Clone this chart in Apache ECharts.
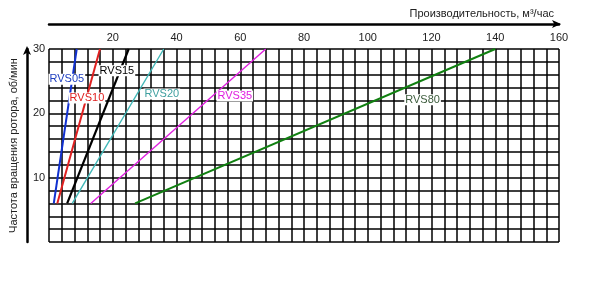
<!DOCTYPE html>
<html><head><meta charset="utf-8">
<script src="https://cdn.jsdelivr.net/npm/echarts@6/dist/echarts.min.js"></script>
<style>html,body{margin:0;padding:0;background:#fff}#c{width:592px;height:289px}</style>
</head><body><div id="c"></div>
<script>
const seriesNames = ['RVS05','RVS10','RVS15','RVS20','RVS35','RVS80'];
// [capacity, rpm] at start and end of each line
const rvs05 = [[1.5, 6], [8.7, 30]];
const rvs10 = [[2.6, 6], [16, 30]];
const rvs15 = [[5.7, 6], [25, 30]];
const rvs20 = [[7.3, 6], [36, 30]];
const rvs35 = [[13.1, 6], [68, 30]];
const rvs80 = [[27, 6], [140, 30]];
// label anchor points [capacity, rpm]
const labelPos = [[5.6, 25.3], [11.9, 22.4], [21.3, 26.6], [35.4, 23], [58.3, 22.7], [117.2, 22.1]];
const xTicks = [20, 40, 60, 80, 100, 120, 140, 160];
const yTicks = [10, 20, 30];

const colors = ['#1030d0','#e02020','#000000','#40b8b8','#e020e0','#108010'];
const textColors = ['#2040c0','#e02020','#000000','#40a0a0','#e020e0','#3a5a3a'];
const widths = [2, 2, 2.2, 1.4, 1.4, 2];
const data = [rvs05, rvs10, rvs15, rvs20, rvs35, rvs80];

const font = 'Liberation Sans, Arial, sans-serif';
const gridLine = {show: true, lineStyle: {color: '#000', width: 1.5}};

const chart = echarts.init(document.getElementById('c'), null, {renderer: 'canvas'});
chart.setOption({
  animation: false,
  title: {text: 'Производительность, м³/час', right: 33, top: 3,
    textStyle: {fontFamily: font, fontSize: 11, fontWeight: 'normal', color: '#222'}},
  grid: {left: 49, right: 33, top: 49, bottom: 47, containLabel: false, outerBoundsMode: 'none'},
  xAxis: {
    type: 'value', position: 'top', min: 0, max: 160, interval: 20, offset: 25,
    axisLine: {show: true, onZero: false, symbol: ['none','arrow'], symbolSize: [6, 9], symbolOffset: [0, 2], lineStyle: {color: '#000', width: 2.5}},
    axisTick: {show: false},
    axisLabel: {inside: true, margin: 8, fontFamily: font, fontSize: 11, color: '#222',
      formatter: v => xTicks.includes(v) ? String(v) : ''},
    splitLine: gridLine,
    minorTick: {show: false, splitNumber: 5},
    minorSplitLine: gridLine
  },
  yAxis: {
    type: 'value', min: 0, max: 30, interval: 10, offset: 22,
    axisLine: {show: true, onZero: false, symbol: ['none','arrow'], symbolSize: [6, 9], symbolOffset: [0, 3], lineStyle: {color: '#000', width: 2.5}},
    axisTick: {show: false},
    axisLabel: {inside: true, margin: 6, fontFamily: font, fontSize: 11, color: '#222',
      formatter: v => yTicks.includes(v) ? String(v) : ''},
    splitLine: gridLine,
    minorTick: {show: false, splitNumber: 5},
    minorSplitLine: gridLine,
    name: 'Частота вращения ротора, об/мин', nameLocation: 'middle', nameGap: 8,
    nameTextStyle: {fontFamily: font, fontSize: 11, color: '#222'}
  },
  series: seriesNames.map((n, i) => ({
    name: n, type: 'line', data: data[i], symbol: 'none', z: 3,
    lineStyle: {color: colors[i], width: widths[i]},
    markPoint: {
      symbol: 'rect', symbolSize: 0, z: 5,
      data: [{coord: labelPos[i], value: n}],
      label: {show: true, position: 'inside', formatter: n, fontFamily: font, fontSize: 11,
        color: textColors[i], backgroundColor: '#fff', padding: [0, 1]}
    }
  }))
});
</script></body></html>
